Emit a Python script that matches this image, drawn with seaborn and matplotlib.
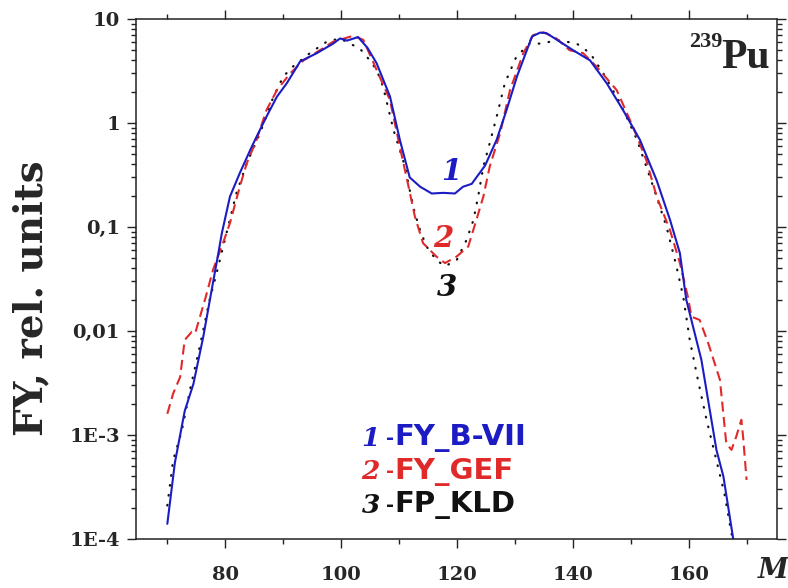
import matplotlib
matplotlib.use("Agg")
import matplotlib.pyplot as plt
import matplotlib.ticker as mticker
import numpy as np
import pandas as pd
import seaborn as sns

# ---- data ----
mass_b7 = [70, 71.3, 73.0, 74.5, 76.2, 77.6, 78.8, 79.4, 80.8, 82.5, 84.3, 85.4, 87.1, 88.9,
           90.6, 92.9, 95.8, 98.6, 99.8, 101.0, 102.9, 104.5, 106.1, 108.4, 110.1, 111.8,
           113.6, 115.6, 117.6, 119.6, 121.0, 122.5, 124.8, 126.8, 128.5, 130.3, 132.0,
           132.9, 134.3, 135.4, 137.7, 140.0, 142.9, 145.8, 148.6, 151.5, 154.4, 156.7,
           158.4, 159.5, 162.1, 164.7, 165.9, 167.6, 167.9]
fy_b7 = [1.4e-4, 5.4e-4, 1.7e-3, 3.1e-3, 8.8e-3, 0.024, 0.056, 0.087, 0.196, 0.33, 0.55,
         0.74, 1.15, 1.79, 2.41, 3.9, 4.7, 5.8, 6.5, 6.2, 6.7, 5.3, 3.75, 1.8, 0.69, 0.30,
         0.244, 0.21, 0.213, 0.21, 0.244, 0.26, 0.39, 0.69, 1.33, 2.8, 5.0, 6.8, 7.4, 7.3,
         6.05, 5.0, 4.0, 2.4, 1.33, 0.69, 0.28, 0.117, 0.056, 0.020, 5.3e-3, 7.2e-4, 4e-4,
         1.0e-4, 8e-5]

mass_gef = [70, 71.0, 72.2, 73.0, 74.2, 74.8, 76.6, 77.9, 79.6, 80.8, 82.5, 83.7, 85.4, 87.1,
            88.9, 91.2, 93.5, 96.3, 98.6, 102.1, 103.8, 106.1, 108.4, 110.1, 111.5, 112.7,
            114.1, 116.4, 117.9, 119.9, 121.9, 123.3, 124.5, 125.6, 127.4, 129.1, 131.4,
            133.1, 134.9, 137.1, 139.4, 141.7, 144.0, 147.5, 150.3, 152.6, 154.4, 156.7,
            158.4, 159.8, 160.4, 161.8, 163.3, 165.3, 166.4, 167.3, 168.1, 169.0, 169.3, 169.9]
fy_gef = [1.6e-3, 2.5e-3, 3.6e-3, 8.2e-3, 9.8e-3, 9.5e-3, 0.021, 0.039, 0.07, 0.109, 0.244,
          0.41, 0.69, 1.33, 2.07, 3.0, 4.0, 5.0, 6.05, 6.9, 6.3, 3.24, 1.66, 0.59, 0.26,
          0.126, 0.07, 0.052, 0.045, 0.052, 0.065, 0.117, 0.196, 0.38, 0.8, 2.07, 4.7, 7.0,
          7.45, 6.5, 5.0, 4.7, 3.5, 2.07, 0.92, 0.44, 0.196, 0.093, 0.045, 0.021, 0.0137,
          0.0128, 7.6e-3, 3.4e-3, 8.3e-4, 7.2e-4, 9.6e-4, 1.4e-3, 9.6e-4, 3.7e-4]

mass_kld = [70, 71.0, 72.5, 73.9, 75.6, 77.3, 78.5, 80.2, 81.9, 83.7, 86.0, 88.3, 90.0, 91.7,
            94.6, 97.5, 99.8, 101.5, 103.2, 104.4, 106.1, 107.2, 109.0, 111.0, 111.8, 112.7,
            113.6, 114.7, 116.4, 117.9, 119.9, 121.6, 122.8, 123.6, 124.5, 125.6, 126.8,
            128.2, 130.2, 132.5, 134.8, 137.1, 140.6, 142.9, 145.2, 148.1, 151.0, 153.8,
            156.1, 157.8, 159.0, 160.1, 161.6, 163.0, 164.7, 166.1, 167.0, 167.8]
fy_kld = [2.1e-4, 5.7e-4, 1.1e-3, 2.7e-3, 7.1e-3, 0.02, 0.036, 0.087, 0.21, 0.41, 0.8, 1.79,
          2.8, 3.5, 4.7, 6.05, 6.5, 5.8, 5.2, 4.35, 3.24, 2.24, 0.86, 0.38, 0.227, 0.135,
          0.093, 0.065, 0.048, 0.042, 0.048, 0.075, 0.117, 0.196, 0.38, 0.64, 1.15, 2.4,
          4.35, 5.8, 5.8, 6.3, 5.8, 4.7, 3.0, 1.55, 0.69, 0.244, 0.10, 0.042, 0.021, 8.2e-3,
          3.2e-3, 1.4e-3, 5.7e-4, 2.7e-4, 1.4e-4, 8e-5]

series_names = ["FY_B-VII", "FY_GEF", "FP_KLD"]
series_nums = ["1", "2", "3"]
x_ticks = [80, 100, 120, 140, 160]
y_ticks = [1e-4, 1e-3, 1e-2, 1e-1, 1, 10]
y_tick_labels = ["1E-4", "1E-3", "0,01", "0,1", "1", "10"]

BLUE = "#1c1cc4"
RED = "#e02a2a"
BLACK = "#111111"

sns.set_style("ticks")
plt.rcParams["font.family"] = ["DejaVu Serif"]

fig = plt.figure(figsize=(7.88, 5.88), dpi=100)
ax = fig.add_axes([0.1726, 0.0833, 0.8131, 0.8844])

df_b7 = pd.DataFrame({"M": mass_b7, "FY": fy_b7})
df_gef = pd.DataFrame({"M": mass_gef, "FY": fy_gef})
df_kld = pd.DataFrame({"M": mass_kld, "FY": fy_kld})

sns.lineplot(data=df_kld, x="M", y="FY", ax=ax, color=BLACK, lw=1.6, sort=False,
             estimator=None, linestyle=(0, (0.3, 4.2)), dash_capstyle="round")
sns.lineplot(data=df_gef, x="M", y="FY", ax=ax, color=RED, lw=1.5, sort=False,
             estimator=None, linestyle=(0, (4.8, 2.6)))
sns.lineplot(data=df_b7, x="M", y="FY", ax=ax, color=BLUE, lw=1.5, sort=False,
             estimator=None)

ax.set_yscale("log")
ax.set_xlim(64.6, 175.1)
ax.set_ylim(1e-4, 10)

ax.set_xticks(x_ticks)
ax.set_xticklabels([str(t) for t in x_ticks])
ax.xaxis.set_minor_locator(mticker.MultipleLocator(10))
ax.set_yticks(y_ticks)
ax.set_yticklabels(y_tick_labels)
ax.yaxis.set_minor_locator(mticker.LogLocator(base=10, subs=np.arange(2, 10)))
ax.yaxis.set_minor_formatter(mticker.NullFormatter())

for s in ax.spines.values():
    s.set_visible(True)
    s.set_linewidth(1.1)
    s.set_color("#222222")

ax.tick_params(which="both", direction="out", top=True, right=True, color="#222222",
               width=1.0)
ax.tick_params(which="major", length=6.5)
ax.tick_params(which="minor", length=3.5)
ax.tick_params(axis="x", which="major", pad=13, labelsize=14)
ax.tick_params(axis="y", which="major", pad=5, labelsize=14)
for lab in ax.get_xticklabels() + ax.get_yticklabels():
    lab.set_fontweight("bold")

ax.set_xlabel("")
ax.set_ylabel("FY, rel. units", fontsize=28, fontweight="bold")
ax.yaxis.set_label_coords(-0.163, 0.463)
ax.yaxis.label.set_verticalalignment("center")

# axis name M at bottom right
fig.text(773 / 788, 1 - 571 / 588, "M", fontsize=20, fontweight="bold", style="italic",
         ha="center", va="center")

# nucleus label
ax.text(0.9896, 0.905, "Pu", transform=ax.transAxes, fontsize=30, fontweight="bold",
        family="Liberation Serif", ha="right", va="baseline")
ax.text(0.9146, 0.946, "239", transform=ax.transAxes, fontsize=16, fontweight="bold",
        family="Liberation Serif", ha="right", va="baseline")

# curve labels
curve_colors = [BLUE, RED, BLACK]
curve_pos = [(119.0, 0.34), (117.6, 0.077), (118.2, 0.026)]
for num, (cx, cy), c in zip(series_nums, curve_pos, curve_colors):
    ax.text(cx, cy, num, color=c, fontsize=21, fontweight="bold", style="italic",
            ha="center", va="center")

# legend as text
leg_y = [0.194, 0.129, 0.065]
for num, name, c, yy in zip(series_nums, series_names, curve_colors, leg_y):
    ax.text(0.352, yy, num, color=c, fontsize=19, fontweight="bold", style="italic",
            transform=ax.transAxes, ha="left", va="center")
    ax.text(0.3965, yy, "-", color=c, fontsize=14, fontweight="bold",
            family="DejaVu Sans", transform=ax.transAxes, ha="center", va="center")
    ax.text(0.404, yy, name, color=c, fontsize=21, fontweight="bold",
            family="DejaVu Sans", transform=ax.transAxes, ha="left", va="center")

fig.savefig("out.png", dpi=100)
